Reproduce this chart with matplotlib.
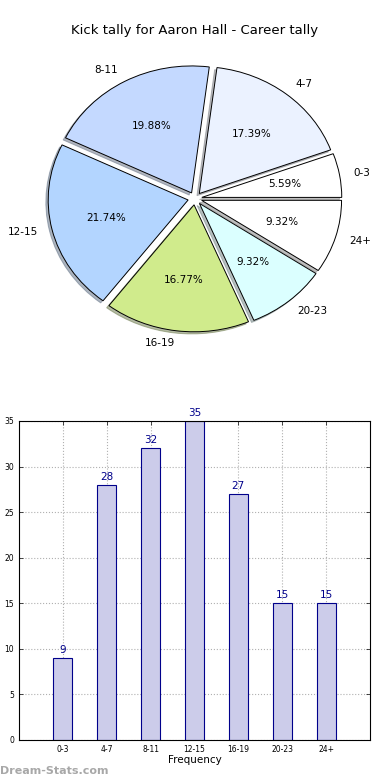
import matplotlib
matplotlib.use("Agg")
import matplotlib.pyplot as plt
import numpy as np

# kick distances grouped in 4 m bins
bins = ['0-3', '4-7', '8-11', '12-15', '16-19', '20-23', '24+']
counts = [9, 28, 32, 35, 27, 15, 15]
pie_colours = ['#ffffff', '#ebf2ff', '#c4d9ff', '#b3d5ff', '#d0eb8c', '#dbffff', '#ffffff']

fig = plt.figure(figsize=(3.9, 7.8), dpi=100)

# pie, stretched a bit wider than tall like the original
ax1 = fig.add_axes([0.0513, 0.542, 0.897, 0.407])
ax1.pie(counts, labels=bins, colors=pie_colours, explode=[0.05] * len(counts),
        autopct='%1.2f%%', startangle=0,
        shadow={'ox': -0.012, 'oy': -0.012, 'shade': 0.5},
        wedgeprops={'edgecolor': 'black', 'linewidth': 0.7},
        textprops={'fontsize': 7.5})
ax1.set_aspect('auto')
ax1.set_xlim(-1.25, 1.25)
ax1.set_ylim(-1.25, 1.25)
ax1.axis('off')
fig.text(0.5, 0.961, 'Kick tally for Aaron Hall - Career tally', ha='center', va='center', fontsize=9.5)

# bar chart of the same counts
ax2 = fig.add_axes([0.0487, 0.0513, 0.9, 0.409])
x = np.arange(len(bins))
bars = ax2.bar(x, counts, width=0.43, color='#ccccea', edgecolor='#00008b', linewidth=0.8, zorder=2)
for b, c in zip(bars, counts):
    ax2.text(b.get_x() + b.get_width() / 2, c + 0.35, str(c), ha='center', va='bottom',
             color='#00008b', fontsize=7.5)
ax2.set_xlim(-1, 7)
ax2.set_ylim(0, 35)
ax2.set_xticks(x)
ax2.set_xticklabels(bins)
ax2.set_yticks(np.arange(0, 36, 5))
ax2.tick_params(labelsize=5.5, direction='in', top=True, right=True, length=3, width=0.5)
ax2.grid(True, linestyle=':', color='#b0b0b0', linewidth=0.8, zorder=0)
ax2.set_axisbelow(True)
ax2.set_xlabel('Frequency', fontsize=7.5, labelpad=1)
ax2.set_ylabel('Occurrences', fontsize=7)
ax2.yaxis.set_label_coords(-0.058, 0.5)

fig.text(0.0, 0.005, 'Dream-Stats.com', color='#a8a8a8', fontsize=8, fontweight='bold', ha='left', va='bottom')

fig.savefig('out.png', dpi=100)
